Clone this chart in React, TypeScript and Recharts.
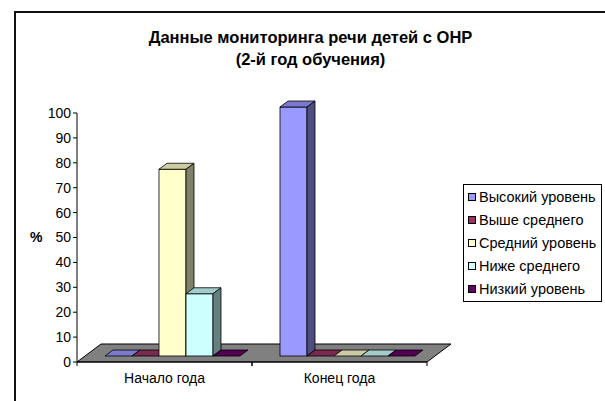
import React from 'react';
import { BarChart, Bar, XAxis, YAxis, ReferenceArea } from 'recharts';

// категории и ряды
const categories = ['Начало года', 'Конец года'];
const highLevel = [0, 100];
const aboveAverage = [0, 0];
const averageLevel = [75, 0];
const belowAverage = [25, 0];
const lowLevel = [0, 0];
const yTicks = [0, 10, 20, 30, 40, 50, 60, 70, 80, 90, 100];

const series = [
  { key: 'high', name: 'Высокий уровень', values: highLevel, color: '#9999FF', top: '#7A7ACC', side: '#4D4D80' },
  { key: 'above', name: 'Выше среднего', values: aboveAverage, color: '#993366', top: '#7A2952', side: '#4D1A33' },
  { key: 'avg', name: 'Средний уровень', values: averageLevel, color: '#FFFFCC', top: '#CCCCA3', side: '#808066' },
  { key: 'below', name: 'Ниже среднего', values: belowAverage, color: '#CCFFFF', top: '#A3CCCC', side: '#668080' },
  { key: 'low', name: 'Низкий уровень', values: lowLevel, color: '#660066', top: '#520052', side: '#330033' },
];

const data = categories.map((name, i) => {
  const row: any = { name };
  series.forEach((s) => (row[s.key] = s.values[i]));
  return row;
});

const FONT = 'Arial, "Liberation Sans", sans-serif';
// глубина "3D": пол целиком и смещение столбика (1/3 глубины)
const FLOOR_DX = 24;
const FLOOR_DY = 18;
const DX = 8;
const DY = 6;

const pts = (arr: number[][]) => arr.map((p) => p.join(',')).join(' ');

function Bar3D(props: any) {
  const { x, y, width, height, color, top, side } = props;
  if (x == null || isNaN(x)) return null;
  const w = width;
  const base = y + height;
  const fx = x + DX;
  const fb = base - DY;
  if (!height || height < 0.5) {
    return (
      <polygon
        points={pts([[fx, fb], [fx + DX, fb - DY], [fx + w + DX, fb - DY], [fx + w, fb]])}
        fill={top}
        stroke="#000"
        strokeWidth={0.8}
      />
    );
  }
  const ft = y - DY;
  return (
    <g stroke="#000" strokeWidth={0.8}>
      <rect x={fx} y={ft} width={w} height={height} fill={color} />
      <polygon points={pts([[fx, ft], [fx + DX, ft - DY], [fx + w + DX, ft - DY], [fx + w, ft]])} fill={top} />
      <polygon points={pts([[fx + w, ft], [fx + w + DX, ft - DY], [fx + w + DX, fb - DY], [fx + w, fb]])} fill={side} />
    </g>
  );
}

function Floor(props: any) {
  const { x, y, width, height } = props;
  const b = y + height;
  return (
    <polygon
      points={pts([[x, b], [x + FLOOR_DX, b - FLOOR_DY], [x + width + FLOOR_DX, b - FLOOR_DY], [x + width, b]])}
      fill="#808080"
      stroke="#000"
      strokeWidth={1}
    />
  );
}

function CategoryTick(props: any) {
  const { x, y, payload } = props;
  const half = payload && payload.offset ? payload.offset : 87.5;
  const axisY = y - 4;
  return (
    <g>
      <line x1={x - half} y1={axisY} x2={x - half} y2={axisY + 4} stroke="#000" />
      <line x1={x + half} y1={axisY} x2={x + half} y2={axisY + 4} stroke="#000" />
      <text x={x} y={axisY + 21} textAnchor="middle" fontSize={14} fill="#000" fontFamily={FONT}>
        {payload.value}
      </text>
    </g>
  );
}

export default function App() {
  return (
    <div
      style={{
        position: 'absolute',
        left: 0,
        top: 0,
        width: 605,
        height: 401,
        overflow: 'hidden',
        background: '#fff',
        fontFamily: FONT,
      }}
    >
      <div
        style={{
          position: 'absolute',
          left: 14,
          top: 11,
          width: 700,
          height: 500,
          border: '2px solid #111',
        }}
      />
      <div
        style={{
          position: 'absolute',
          left: 0,
          top: 26,
          width: 621,
          textAlign: 'center',
          fontSize: 16.5,
          lineHeight: '22px',
          fontWeight: 'bold',
          color: '#000',
        }}
      >
        Данные мониторинга речи детей с ОНР
        <br />
        (2-й год обучения)
      </div>

      <div style={{ position: 'absolute', left: 0, top: 0 }}>
        <BarChart
          width={605}
          height={401}
          data={data}
          margin={{ top: 113, right: 178, bottom: 9, left: 30 }}
          barCategoryGap={20}
          barGap={0}
        >
          <ReferenceArea y1={0} y2={0.01} shape={<Floor />} ifOverflow="visible" />
          <XAxis
            dataKey="name"
            height={30}
            axisLine={{ stroke: '#000' }}
            tickLine={false}
            tickSize={4}
            tickMargin={0}
            interval={0}
            tick={<CategoryTick />}
          />
          <YAxis
            width={47}
            domain={[0, 100]}
            ticks={yTicks}
            interval={0}
            axisLine={{ stroke: '#000' }}
            tickLine={{ stroke: '#000' }}
            tickSize={4}
            tickMargin={2}
            tick={{ fill: '#000', fontSize: 14, fontFamily: FONT }}
            label={{ value: '%', position: 'insideLeft', offset: 0, fill: '#000', fontSize: 14, fontWeight: 'bold', fontFamily: FONT }}
          />
          {series.map((s) => (
            <Bar
              key={s.key}
              dataKey={s.key}
              name={s.name}
              fill={s.color}
              isAnimationActive={false}
              shape={(p: any) => <Bar3D {...p} color={s.color} top={s.top} side={s.side} />}
            />
          ))}
        </BarChart>
      </div>

      <div
        style={{
          position: 'absolute',
          left: 463,
          top: 184,
          width: 137,
          height: 116,
          border: '1px solid #000',
          background: '#fff',
        }}
      >
        {series.map((s, i) => (
          <div
            key={s.key}
            style={{
              position: 'absolute',
              left: 4,
              top: 3 + i * 23,
              height: 18,
              display: 'flex',
              alignItems: 'center',
              fontSize: 14.5,
              whiteSpace: 'nowrap',
              color: '#000',
            }}
          >
            <span
              style={{
                display: 'inline-block',
                width: 6,
                height: 6,
                background: s.color,
                border: '1px solid #000',
                marginRight: 3,
              }}
            />
            {s.name}
          </div>
        ))}
      </div>
    </div>
  );
}
